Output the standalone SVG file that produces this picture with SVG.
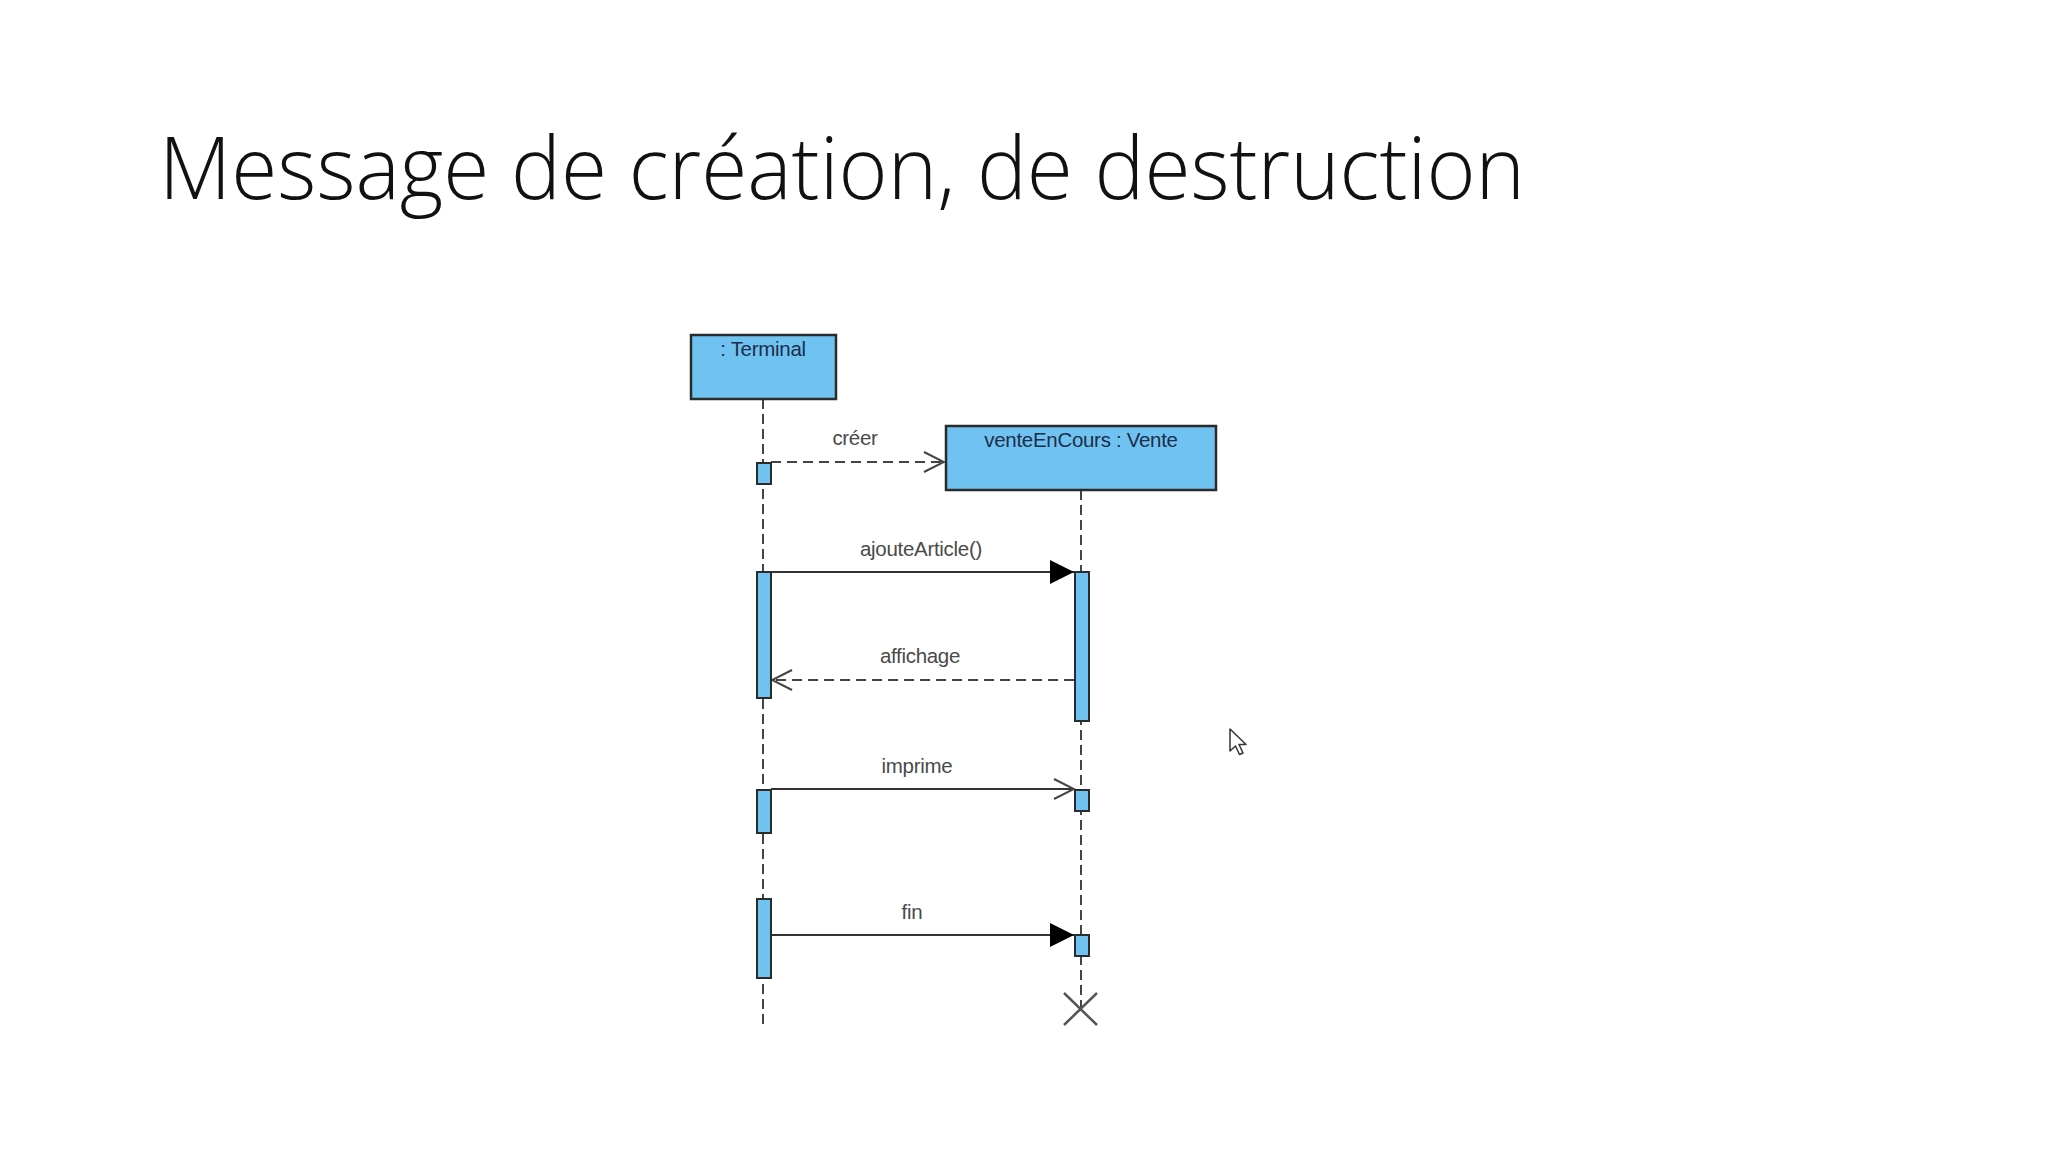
<svg xmlns="http://www.w3.org/2000/svg" width="2048" height="1152" viewBox="0 0 2048 1152">
<style>
.title{font-family:"Open Sans","Liberation Sans",sans-serif;font-weight:300;font-size:87px;fill:#111}
.box{fill:#70c3f1;stroke:#2b2b2b;stroke-width:2.5}
.act{fill:#70c3f1;stroke:#2b2b2b;stroke-width:2}
.blabel{font-family:"Liberation Sans",Arial,sans-serif;font-size:20.5px;fill:#1c2d4a;text-anchor:middle;letter-spacing:-0.3px}
.mlabel{font-family:"Liberation Sans",Arial,sans-serif;font-size:20.5px;fill:#4a4a4a;text-anchor:middle;letter-spacing:-0.3px}
.life{stroke:#444;stroke-width:2;stroke-dasharray:10 5;fill:none}
.msg{stroke:#333;stroke-width:2;fill:none}
.dash{stroke:#444;stroke-width:2;stroke-dasharray:10 6;fill:none}
</style>
<defs>
<marker id="filled" viewBox="0 0 24 24" refX="24" refY="12" markerWidth="24" markerHeight="24" markerUnits="userSpaceOnUse" orient="auto">
<path d="M0,0 L24,12 L0,24 Z" fill="#000"/>
</marker>
<marker id="open" viewBox="0 0 24 24" refX="22" refY="12" markerWidth="24" markerHeight="24" markerUnits="userSpaceOnUse" orient="auto">
<path d="M2,2 L22,12 L2,22" fill="none" stroke="#444" stroke-width="2"/>
</marker>
</defs>
<rect width="2048" height="1152" fill="#fff"/>
<text class="title" x="159" y="199" textLength="1366" lengthAdjust="spacingAndGlyphs">Message de création, de destruction</text>

<g id="lifelines">
<line class="life" x1="763" y1="399" x2="763" y2="1026"/>
<line class="life" x1="1081" y1="490" x2="1081" y2="1008"/>
</g>

<g id="connectors">
<line class="dash" x1="771" y1="462" x2="944" y2="462" marker-end="url(#open)"/>
<line class="msg" x1="771" y1="572" x2="1074" y2="572" marker-end="url(#filled)"/>
<line class="dash" x1="1074" y1="680" x2="772" y2="680" marker-end="url(#open)"/>
<line class="msg" x1="771" y1="789" x2="1074" y2="789" marker-end="url(#open)"/>
<line class="msg" x1="771" y1="935" x2="1074" y2="935" marker-end="url(#filled)"/>
<text class="mlabel" x="855" y="445">créer</text>
<text class="mlabel" x="921" y="556">ajouteArticle()</text>
<text class="mlabel" x="920" y="663">affichage</text>
<text class="mlabel" x="917" y="773">imprime</text>
<text class="mlabel" x="912" y="919">fin</text>
</g>

<g id="terminal">
<rect class="box" x="691" y="335" width="145" height="64"/>
<text class="blabel" x="763" y="356">: Terminal</text>
<rect class="act" x="757" y="463" width="14" height="21"/>
<rect class="act" x="757" y="572" width="14" height="126"/>
<rect class="act" x="757" y="790" width="14" height="43"/>
<rect class="act" x="757" y="899" width="14" height="79"/>
</g>

<g id="vente">
<rect class="box" x="946" y="426" width="270" height="64"/>
<text class="blabel" x="1081" y="447">venteEnCours : Vente</text>
<rect class="act" x="1075" y="572" width="14" height="149"/>
<rect class="act" x="1075" y="790" width="14" height="21"/>
<rect class="act" x="1075" y="935" width="14" height="21"/>
<path d="M1064,993 L1097,1025 M1097,993 L1064,1025" stroke="#555" stroke-width="2.5" fill="none"/>
</g>

<path d="M1230,729 L1230,751 L1235.5,746 L1239.5,754.5 L1243,753 L1239,744.5 L1246,744.5 Z" fill="#fff" stroke="#333" stroke-width="1.5" stroke-linejoin="round"/>
</svg>
